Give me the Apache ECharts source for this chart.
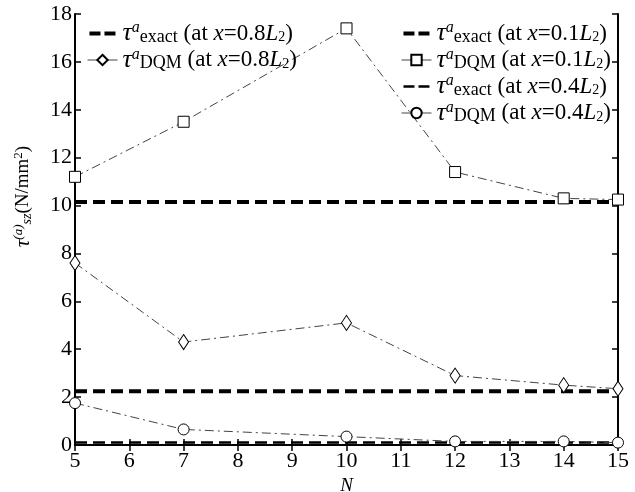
<!DOCTYPE html>
<html><head><meta charset="utf-8">
<script src="https://cdn.jsdelivr.net/npm/echarts@6/dist/echarts.min.js"></script>
<style>html,body{margin:0;padding:0;background:#fff}#c{width:635px;height:492px}</style>
</head><body><div id="c"></div>
<script>
const N = [5, 7, 10, 12, 14, 15];
const dqm01 = [11.2, 13.5, 17.4, 11.4, 10.3, 10.25];
const dqm08 = [7.6, 4.3, 5.1, 2.9, 2.5, 2.35];
const dqm04 = [1.75, 0.65, 0.35, 0.15, 0.15, 0.1];
const exact01 = 10.15, exact08 = 2.25, exact04 = 0.1;
const xTicks = [5, 6, 7, 8, 9, 10, 11, 12, 13, 14, 15];
const yTicks = [0, 2, 4, 6, 8, 10, 12, 14, 16, 18];

const FONT = 'Liberation Serif';
const pts = arr => N.map((n, i) => [n, arr[i]]);
const flat = v => [[N[0], v], [N[N.length - 1], v]];
const dashDot = [9, 4, 2, 4];
const rich = {
  t: {fontFamily: FONT, fontSize: 26, fontStyle: 'italic', color: '#000'},
  sup: {fontFamily: FONT, fontSize: 16, fontStyle: 'italic', color: '#000', padding: [0, 0, 11, 0]},
  sub: {fontFamily: FONT, fontSize: 18, color: '#000', padding: [7, 0, 0, 0]},
  n: {fontFamily: FONT, fontSize: 23, color: '#000'},
  it: {fontFamily: FONT, fontSize: 23, fontStyle: 'italic', color: '#000'},
  sub2: {fontFamily: FONT, fontSize: 14, color: '#000', padding: [8, 0, 0, 0]},
  yt: {fontFamily: FONT, fontSize: 21, fontStyle: 'italic', color: '#000'},
  ysup: {fontFamily: FONT, fontSize: 13, fontStyle: 'italic', color: '#000', padding: [0, 0, 10, 0]},
  ysub: {fontFamily: FONT, fontSize: 14, fontStyle: 'italic', color: '#000', padding: [7, 0, 0, 0]},
  yn: {fontFamily: FONT, fontSize: 19, color: '#000'},
  ysup2: {fontFamily: FONT, fontSize: 13, color: '#000', padding: [0, 0, 9, 0]}
};
const names = {
  e08: 'exact08', d08: 'dqm08', e01: 'exact01', d01: 'dqm01', e04: 'exact04', d04: 'dqm04'
};
function fmt(name) {
  const kind = name.startsWith('exact') ? 'exact' : 'DQM';
  const pos = '0.' + name.slice(-1);
  return '{t|τ}{sup|a}{sub|' + kind + '}{n| (at }{it|x}{n|=' + pos + '}{it|L}{sub2|2}{n|)}';
}
const dashIcon = h => 'path://M0,0h0.05v0.05h-0.05z M26,12.95h0.05v0.05h-0.05z ' +
  'M0,' + (6.5 - h / 2) + 'h11v' + h + 'h-11z M15,' + (6.5 - h / 2) + 'h11v' + h + 'h-11z';
const exactItem = (name, h) => ({name: name, icon: dashIcon(h),
  itemStyle: {color: '#000', opacity: 1, borderWidth: 0}});
const dqmItem = name => ({name: name,
  lineStyle: {color: '#444', width: 1, type: 'solid', opacity: 1}});
const axisLine = {show: true, lineStyle: {color: '#000', width: 2}};
const tick = {show: true, inside: true, length: 6, lineStyle: {color: '#000', width: 1.5}};

const option = {
  backgroundColor: '#fff',
  animation: false,
  grid: {left: 75, right: 17, top: 14, bottom: 47, containLabel: false, outerBoundsMode: 'none'},
  legend: [{
    data: [exactItem(names.e08, 4), dqmItem(names.d08)],
    orient: 'vertical', left: 82, top: 15, itemGap: 0, itemWidth: 30, itemHeight: 13,
    formatter: fmt, textStyle: {rich: rich}
  }, {
    data: [exactItem(names.e01, 4), dqmItem(names.d01), exactItem(names.e04, 2.5), dqmItem(names.d04)],
    orient: 'vertical', left: 396, top: 15, itemGap: 0, itemWidth: 30, itemHeight: 13,
    formatter: fmt, textStyle: {rich: rich}
  }],
  xAxis: [{
    type: 'value', min: 5, max: 15, interval: 1,
    name: 'N', nameLocation: 'middle', nameGap: 29,
    nameTextStyle: {fontFamily: FONT, fontStyle: 'italic', fontSize: 19, color: '#000'},
    axisLine: axisLine, axisTick: tick, splitLine: {show: false},
    axisLabel: {fontFamily: FONT, fontSize: 22, color: '#000', margin: 5,
      formatter: v => xTicks.includes(v) ? String(v) : ''}
  }, {
    type: 'value', min: 5, max: 15, interval: 1, position: 'top',
    axisLine: axisLine, axisTick: tick, axisLabel: {show: false}, splitLine: {show: false}
  }],
  yAxis: [{
    type: 'value', min: 0, max: 18, interval: 2,
    name: '{yt|τ}{ysup|(a)}{ysub|sz}{yn|(N/mm}{ysup2|2}{yn|)}', nameLocation: 'middle', nameGap: 40, nameRotate: 90,
    nameTextStyle: {rich: rich, padding: [0, 0, 0, 66]},
    axisLine: axisLine, axisTick: tick, splitLine: {show: false},
    axisLabel: {fontFamily: FONT, fontSize: 22, color: '#000', margin: 3,
      formatter: v => yTicks.includes(v) ? String(v) : ''}
  }, {
    type: 'value', min: 0, max: 18, interval: 2, position: 'right',
    axisLine: axisLine, axisTick: tick, axisLabel: {show: false}, splitLine: {show: false}
  }],
  series: [
    {name: names.e08, type: 'line', data: flat(exact08), symbol: 'none', z: 2,
      lineStyle: {color: '#000', width: 4, type: [12, 6]}, itemStyle: {color: '#000'}},
    {name: names.d08, type: 'line', data: pts(dqm08), symbol: 'diamond', symbolSize: [10, 15], z: 3,
      lineStyle: {color: '#444', width: 1, type: dashDot},
      itemStyle: {color: '#fff', borderColor: '#000', borderWidth: 1}},
    {name: names.e01, type: 'line', data: flat(exact01), symbol: 'none', z: 2,
      lineStyle: {color: '#000', width: 4, type: [12, 6]}, itemStyle: {color: '#000'}},
    {name: names.d01, type: 'line', data: pts(dqm01), symbol: 'rect', symbolSize: 11, z: 3,
      lineStyle: {color: '#444', width: 1, type: dashDot},
      itemStyle: {color: '#fff', borderColor: '#000', borderWidth: 1}},
    {name: names.e04, type: 'line', data: flat(exact04), symbol: 'none', z: 2,
      lineStyle: {color: '#000', width: 2.5, type: [12, 6]}, itemStyle: {color: '#000'}},
    {name: names.d04, type: 'line', data: pts(dqm04), symbol: 'circle', symbolSize: 11, z: 3,
      lineStyle: {color: '#444', width: 1, type: dashDot},
      itemStyle: {color: '#fff', borderColor: '#000', borderWidth: 1}}
  ]
};
const chart = echarts.init(document.getElementById('c'), null, {renderer: 'canvas'});
chart.setOption(option);
</script></body></html>
